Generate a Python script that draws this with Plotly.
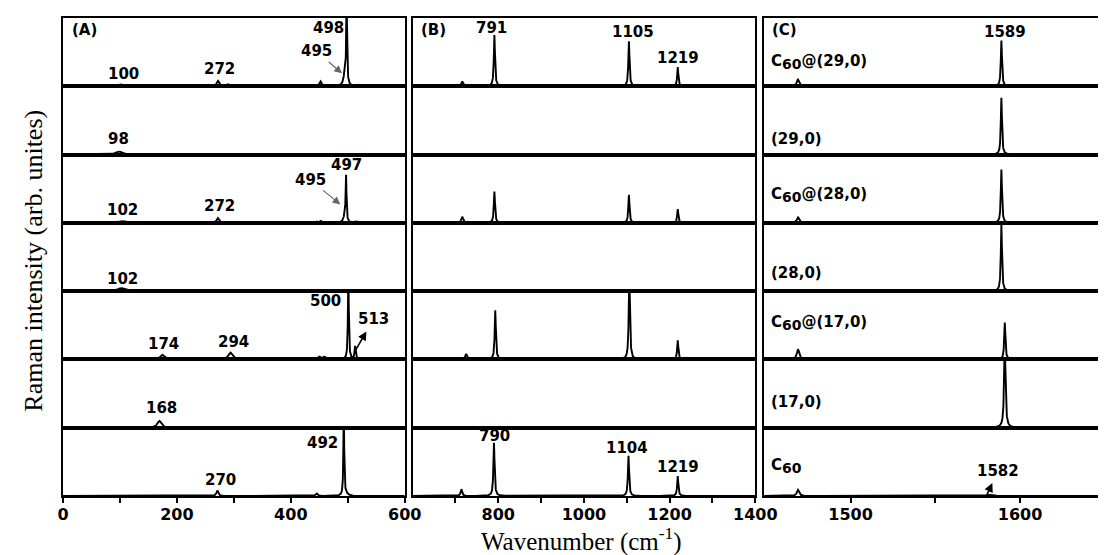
import numpy as np
import plotly.graph_objects as go

# ---------------- data ----------------
structures = ["C60@(29,0)", "(29,0)", "C60@(28,0)", "(28,0)", "C60@(17,0)", "(17,0)", "C60"]
SUB60 = "C<sub><span style='font-size:14px'>60</span></sub>"
structure_labels = [SUB60 + "@(29,0)", "(29,0)", SUB60 + "@(28,0)", "(28,0)",
                    SUB60 + "@(17,0)", "(17,0)", SUB60]

# peaks: (wavenumber cm-1, intensity in panel-height units, half width cm-1)
peaks_c60_29 = [(100, 0.03, 8), (272, 0.08, 2.5), (289, 0.03, 2.5), (452, 0.07, 2),
                (495, 0.20, 2.5), (498, 1.30, 0.8), (519, 0.02, 3),
                (716, 0.07, 2.5), (791, 0.75, 1.6), (1105, 0.66, 1.6), (1219, 0.28, 1.6),
                (1469, 0.10, 0.8), (1580, 0.02, 2), (1589, 0.67, 0.4)]
peaks_29 = [(98, 0.045, 6), (1589, 0.83, 0.4)]
peaks_c60_28 = [(102, 0.03, 8), (272, 0.07, 2.5), (445, 0.02, 2), (452, 0.03, 2),
                (495, 0.12, 2.5), (497, 0.63, 0.8), (515, 0.02, 3),
                (716, 0.09, 2.5), (791, 0.46, 1.6), (1105, 0.41, 1.6), (1219, 0.20, 1.6),
                (1469, 0.08, 0.8), (1589, 0.78, 0.4)]
peaks_28 = [(102, 0.045, 7), (1589, 0.97, 0.4)]
peaks_c60_17 = [(174, 0.07, 4), (294, 0.10, 4), (450, 0.04, 2.5), (459, 0.04, 2.5),
                (501, 1.30, 0.9), (513, 0.19, 1.2),
                (655, 0.02, 3), (725, 0.08, 2.5), (793, 0.72, 1.6), (1106, 1.30, 1.6), (1219, 0.28, 1.6),
                (1469, 0.15, 0.8), (1583, 0.02, 2), (1591, 0.54, 0.4)]
peaks_17 = [(169, 0.10, 4), (1591, 1.20, 0.5)]
peaks_c60 = [(271, 0.08, 2), (445, 0.04, 2), (493, 1.30, 0.8), (497, 0.03, 4),
             (714, 0.10, 2), (790, 0.78, 1.6), (1104, 0.59, 1.6), (1219, 0.29, 1.6),
             (1469, 0.09, 0.8), (1582, 0.02, 2)]
spectra = [peaks_c60_29, peaks_29, peaks_c60_28, peaks_28, peaks_c60_17, peaks_17, peaks_c60]

panel_names = ["(A)", "(B)", "(C)"]
panel_ranges = [[0, 600], [600, 1400], [1449, 1646]]
panel_steps = [0.2, 0.25, 0.05]
major_ticks = [[0, 200, 400, 600], [800, 1000, 1200, 1400], [1500, 1600]]
minor_ticks = [[100, 300, 500], [700, 900, 1100, 1300], [1550]]

# peak labels without arrows: (row, panel, text, x, y)
peak_labels = [
    (0, 0, "100", 107, 0.18), (0, 0, "272", 274, 0.25), (0, 0, "498", 466, 0.85),
    (1, 0, "98", 98, 0.23),
    (2, 0, "102", 105, 0.19), (2, 0, "272", 274, 0.24), (2, 0, "497", 497, 0.85),
    (3, 0, "102", 105, 0.18),
    (4, 0, "174", 176, 0.22), (4, 0, "294", 299, 0.26), (4, 0, "500", 461, 0.85),
    (5, 0, "168", 173, 0.29),
    (6, 0, "270", 277, 0.23), (6, 0, "492", 456, 0.78),
    (0, 1, "791", 785, 0.86), (0, 1, "1105", 1114, 0.79), (0, 1, "1219", 1219, 0.42),
    (6, 1, "790", 792, 0.88), (6, 1, "1104", 1101, 0.70), (6, 1, "1219", 1219, 0.42),
    (0, 2, "1589", 1591, 0.79),
]
# labels with arrows: (row, panel, text, label x, label y, arrow end x, arrow end y, head at label?)
arrow_labels = [
    (0, 0, "495", 445, 0.51, 490, 0.19, False),
    (2, 0, "495", 434, 0.63, 487, 0.27, False),
    (4, 0, "513", 545, 0.59, 514, 0.14, True),
    (6, 2, "1582", 1587, 0.37, 1580, -0.01, True),
]
structure_label_y = [0.36, 0.23, 0.41, 0.26, 0.54, 0.37, 0.44]

# ---------------- layout geometry ----------------
W, H = 1112, 555
ML, MR, MT = 55, 0, 10
PLOT_BOTTOM = 488
MB = H - PLOT_BOTTOM
PW, PH = W - ML - MR, PLOT_BOTTOM - MT
col_px = [(55, 404), (412, 762), (771, 1112)]
col_dom = [((a - ML) / PW, min(1.0, (b - ML) / PW)) for a, b in col_px]
nrows = len(structures)


def idx(r, c):
    return r * 3 + c + 1


def sfx(k):
    return "" if k == 1 else str(k)


fig = go.Figure()
layout = dict(
    width=W, height=H, margin=dict(l=ML, r=MR, t=MT, b=MB),
    paper_bgcolor="white", plot_bgcolor="white", showlegend=False,
    font=dict(family="DejaVu Sans", color="black"),
)

for r in range(nrows):
    for c in range(3):
        k = idx(r, c)
        lo, hi = panel_ranges[c]
        x = np.arange(lo, hi + panel_steps[c], panel_steps[c])
        y = np.zeros_like(x)
        for p, a, w in spectra[r]:
            y += a * w * w / ((x - p) ** 2 + w * w)
        fig.add_trace(go.Scatter(x=x, y=y, mode="lines", line=dict(color="black", width=1.9),
                                 xaxis="x" + sfx(k), yaxis="y" + sfx(k), hoverinfo="skip"))
        bottom = r == nrows - 1
        xa = dict(domain=list(col_dom[c]), anchor="y" + sfx(k), range=[lo, hi],
                  showline=True, linecolor="black", linewidth=2, mirror=True,
                  showgrid=False, zeroline=False, fixedrange=True)
        if bottom:
            xa.update(tickmode="array", tickvals=major_ticks[c], ticks="outside", ticklen=5,
                      tickwidth=1.5, tickcolor="black", showticklabels=True,
                      tickfont=dict(family="DejaVu Sans", size=16, weight="bold", color="black"),
                      minor=dict(tickvals=minor_ticks[c], ticks="outside", ticklen=5,
                                 tickwidth=1.5, tickcolor="black"),
                      ticklabelstandoff=-2)
        else:
            xa.update(ticks="", showticklabels=False)
        ya = dict(domain=[1 - (r + 1) / nrows, 1 - r / nrows], anchor="x" + sfx(k), range=[0, 1],
                  showline=True, linecolor="black", linewidth=2, mirror=(c != 2),
                  showgrid=False, zeroline=False, ticks="", showticklabels=False, fixedrange=True)
        layout["xaxis" + sfx(k)] = xa
        layout["yaxis" + sfx(k)] = ya

annotations = []
lab_font = dict(family="DejaVu Sans", size=15, weight="bold", color="black")

panel_label_x = [38, 650, 1461]
for c, name in enumerate(panel_names):
    k = idx(0, c)
    annotations.append(dict(text=name, x=panel_label_x[c], y=0.83, xref="x" + sfx(k), yref="y" + sfx(k),
                            showarrow=False, font=lab_font, xanchor="center", yanchor="middle"))

for r, c, t, xv, yv in peak_labels:
    k = idx(r, c)
    annotations.append(dict(text=t, x=xv, y=yv, xref="x" + sfx(k), yref="y" + sfx(k),
                            showarrow=False, font=lab_font, xanchor="center", yanchor="middle"))

for r, c, t, lx, ly, ex, ey, head_at_label in arrow_labels:
    k = idx(r, c)
    a = dict(text=t, x=ex, y=ey, ax=lx, ay=ly, xref="x" + sfx(k), yref="y" + sfx(k),
             axref="x" + sfx(k), ayref="y" + sfx(k), showarrow=True, font=lab_font)
    if head_at_label:
        a.update(arrowside="start", startarrowhead=2, startarrowsize=1.1, arrowwidth=1.6,
                 arrowcolor="black", startstandoff=2)
    else:
        a.update(arrowside="end", arrowhead=2, arrowsize=1.3, arrowwidth=1.2,
                 arrowcolor="#666666", standoff=0)
    annotations.append(a)

for r, lab in enumerate(structure_labels):
    k = idx(r, 2)
    annotations.append(dict(text=lab, x=1452, y=structure_label_y[r], xref="x" + sfx(k), yref="y" + sfx(k),
                            showarrow=False, font=lab_font, xanchor="left", yanchor="middle"))

annotations.append(dict(text="Wavenumber (cm<sup>-1</sup>)",
                        x=(585 - ML) / PW, y=(PLOT_BOTTOM - 531) / PH,
                        xref="paper", yref="paper", showarrow=False,
                        font=dict(family="Liberation Serif", size=25, color="black"),
                        xanchor="center", yanchor="middle"))
annotations.append(dict(text="Raman intensity (arb. unites)",
                        x=(24 - ML) / PW, y=(PLOT_BOTTOM - 253) / PH,
                        xref="paper", yref="paper", showarrow=False, textangle=-90,
                        font=dict(family="Liberation Serif", size=26, color="black"),
                        xanchor="center", yanchor="middle"))

layout["annotations"] = annotations
fig.update_layout(**layout)
fig.write_html("out.html")
